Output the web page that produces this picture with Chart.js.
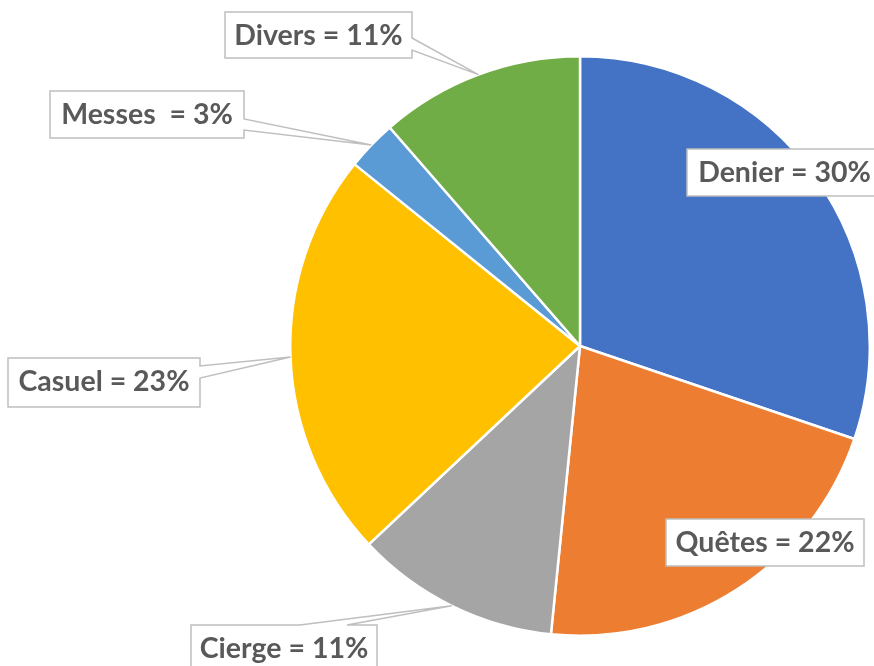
<!DOCTYPE html>
<html>
<head>
<meta charset="utf-8">
<script src="https://cdn.jsdelivr.net/npm/chart.js@4"></script>
<style>
html,body{margin:0;padding:0;background:#fff;}
#wrap{width:874px;height:666px;position:relative;}
</style>
</head>
<body>
<div id="wrap"><canvas id="c" width="874" height="666"></canvas></div>
<script>
// ---- data ----
const categories = ["Denier", "Quêtes", "Cierge", "Casuel", "Messes", "Divers"];
const values = [30.2, 21.4, 11.4, 22.8, 2.8, 11.4];
const pctLabels = ["30%", "22%", "11%", "23%", "3%", "11%"];
const labelNames = ["Denier", "Quêtes", "Cierge", "Casuel", "Messes ", "Divers"];

// ---- styles / layout ----
const colors = ["#4472C4", "#ED7D31", "#A5A5A5", "#FFC000", "#5B9BD5", "#70AD47"];
// box: [x, y, w, h]; pointer: side and base positions (absolute coords along that side)
const labelBoxes = [
  {box:[687,149,195,47], pointer:null},
  {box:[666,519,198,47], pointer:null},
  {box:[191,625,186,50], pointer:{side:'top', a:300, b:347}},
  {box:[8,358,192,49], pointer:{side:'right', a:366, b:378}},
  {box:[50,91,194,47], pointer:{side:'right', a:119, b:130}},
  {box:[225,12,187,46], pointer:{side:'right', a:38, b:50}}
];

const calloutPlugin = {
  id: 'callouts',
  afterDatasetsDraw(chart) {
    const ctx = chart.ctx;
    const meta = chart.getDatasetMeta(0);
    ctx.save();
    ctx.font = "bold 28.5px Lato";
    ctx.textAlign = "center";
    ctx.textBaseline = "middle";
    meta.data.forEach((arc, i) => {
      const lb = labelBoxes[i];
      const [x, y, w, h] = lb.box;
      const mid = (arc.startAngle + arc.endAngle) / 2;
      const tx = arc.x + Math.cos(mid) * arc.outerRadius;
      const ty = arc.y + Math.sin(mid) * arc.outerRadius;
      ctx.beginPath();
      ctx.moveTo(x, y);
      if (lb.pointer && lb.pointer.side === 'top') {
        ctx.lineTo(lb.pointer.a, y);
        ctx.lineTo(tx, ty);
        ctx.lineTo(lb.pointer.b, y);
      }
      ctx.lineTo(x + w, y);
      if (lb.pointer && lb.pointer.side === 'right') {
        ctx.lineTo(x + w, lb.pointer.a);
        ctx.lineTo(tx, ty);
        ctx.lineTo(x + w, lb.pointer.b);
      }
      ctx.lineTo(x + w, y + h);
      ctx.lineTo(x, y + h);
      ctx.closePath();
      ctx.fillStyle = "#ffffff";
      ctx.fill();
      ctx.strokeStyle = "#BFBFBF";
      ctx.lineWidth = 1.5;
      ctx.stroke();
      ctx.fillStyle = "#595959";
      ctx.fillText(labelNames[i] + " = " + pctLabels[i], x + w / 2, y + 24);
    });
    ctx.restore();
  }
};

new Chart(document.getElementById('c'), {
  type: 'pie',
  data: {
    labels: categories,
    datasets: [{
      data: values,
      backgroundColor: colors,
      borderColor: "#ffffff",
      borderWidth: 2.5
    }]
  },
  options: {
    responsive: false,
    animation: false,
    layout: {padding: {left: 289, right: 3, top: 55, bottom: 29}},
    plugins: {legend: {display: false}, tooltip: {enabled: false}}
  },
  plugins: [calloutPlugin]
});
</script>
</body>
</html>
